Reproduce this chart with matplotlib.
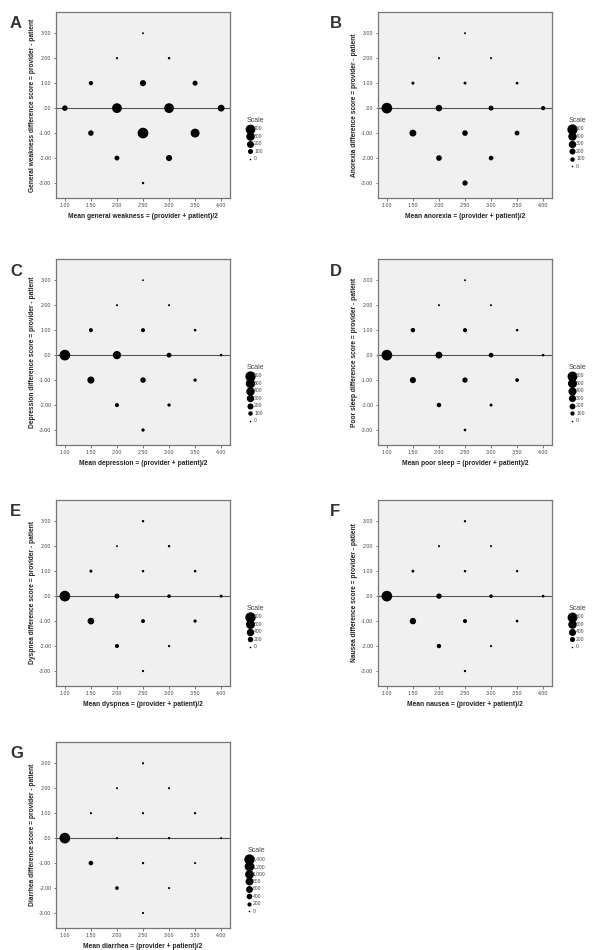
import numpy as np
import matplotlib
matplotlib.use("Agg")
import matplotlib.pyplot as plt
from matplotlib.ticker import FuncFormatter

plt.rcParams['font.family'] = ['Liberation Sans', 'DejaVu Sans']

# grid of (mean, difference) cells shared by all symptoms
mean_x = [1.0, 1.5, 1.5, 2.0, 2.0, 2.0, 2.5, 2.5, 2.5, 2.5, 3.0, 3.0, 3.0, 3.5, 3.5, 4.0]
diff_y = [0, 1, -1, 2, 0, -2, 3, 1, -1, -3, 2, 0, -2, 1, -1, 0]

# patient counts per cell
weakness = [120, 70, 120, 10, 400, 90, 5, 150, 480, 15, 15, 400, 150, 100, 330, 190]
anorexia = [650, 40, 260, 10, 230, 170, 8, 35, 170, 150, 10, 130, 110, 30, 120, 90]
depression = [650, 80, 280, 10, 380, 80, 5, 80, 160, 50, 10, 120, 50, 25, 50, 25]
poor_sleep = [700, 110, 220, 10, 280, 110, 8, 90, 160, 30, 10, 120, 40, 25, 70, 25]
dyspnea = [850, 50, 320, 10, 170, 110, 30, 30, 100, 20, 25, 80, 20, 30, 60, 50]
nausea = [950, 50, 330, 15, 220, 140, 25, 30, 120, 25, 15, 90, 20, 25, 40, 40]
diarrhea = [1500, 30, 250, 20, 30, 150, 30, 35, 40, 30, 25, 40, 25, 40, 25, 25]

letters = ["A", "B", "C", "D", "E", "F", "G"]
names = ["general weakness", "anorexia", "depression", "poor sleep", "dyspnea", "nausea", "diarrhea"]
ylabels = ["General weakness", "Anorexia", "Depression", "Poor sleep", "Dyspnea", "Nausea", "Diarrhea"]
counts = [weakness, anorexia, depression, poor_sleep, dyspnea, nausea, diarrhea]
legend_vals = [
    [400, 300, 200, 100, 0],
    [600, 400, 300, 200, 100, 0],
    [600, 500, 400, 300, 200, 100, 0],
    [600, 500, 400, 300, 200, 100, 0],
    [800, 600, 400, 200, 0],
    [800, 600, 400, 200, 0],
    [1400, 1200, 1000, 800, 600, 400, 200, 0],
]

x_ticks = [1.0, 1.5, 2.0, 2.5, 3.0, 3.5, 4.0]
y_ticks = [-3, -2, -1, 0, 1, 2, 3]

W, H = 600, 950
fig = plt.figure(figsize=(6, 9.5), dpi=100)

lefts = [56, 378]
tops = [12, 259, 500, 742]
aw, ah = 174, 186


def fmt(v, pos=None):
    s = "%.2f" % v
    if s.startswith("0"):
        s = s[1:]
    if s.startswith("-0"):
        s = s[1:]
    return s


def size_of(c, cmax):
    return 1.3 + 58.0 * c / cmax


for i in range(7):
    col, row = i % 2, i // 2
    l, t = lefts[col], tops[row]
    ax = fig.add_axes([l / W, 1 - (t + ah) / H, aw / W, ah / H])
    ax.set_facecolor("#f0f0f0")
    for sp in ax.spines.values():
        sp.set_color("#777777")
        sp.set_linewidth(0.9)
    cmax = max(counts[i])
    sizes = [size_of(c, cmax) for c in counts[i]]
    ax.axhline(0, color="#555555", lw=0.8, zorder=1)
    ax.scatter(mean_x, diff_y, s=sizes, c="black", linewidths=0, zorder=3)
    ax.set_xlim(0.83, 4.17)
    ax.set_ylim(-3.6, 3.85)
    ax.set_xticks(x_ticks)
    ax.set_yticks(y_ticks)
    ax.xaxis.set_major_formatter(FuncFormatter(fmt))
    ax.yaxis.set_major_formatter(FuncFormatter(fmt))
    ax.tick_params(labelsize=3.8, length=1.8, width=0.5, colors="#444444", pad=1.5)
    ax.set_xlabel("Mean %s = (provider + patient)/2" % names[i], fontsize=4.8,
                  fontweight="bold", labelpad=4, color="#222222")
    ax.set_ylabel("%s difference score = provider - patient" % ylabels[i], fontsize=4.8,
                  fontweight="bold", labelpad=2, color="#222222")

    handles = [ax.scatter([], [], s=size_of(v, cmax), c="black", linewidths=0)
               for v in legend_vals[i]]
    labs = ["{:,}".format(v) for v in legend_vals[i]]
    leg = ax.legend(handles, labs, title="Scale", loc="upper left",
                    bbox_to_anchor=(1.08, 0.45), frameon=False, fontsize=3.6,
                    title_fontsize=5, labelspacing=0.5, handletextpad=0.3,
                    handlelength=1.0, borderpad=0, scatterpoints=1)
    leg.get_title().set_color("#444444")
    for tx in leg.get_texts():
        tx.set_color("#444444")

    lx = 10 if col == 0 else 330
    fig.text(lx / W, 1 - (t + 12) / H, letters[i], fontsize=12, fontweight="bold",
             color="#333333", va="center", ha="left")

fig.savefig("out.png", dpi=100)
